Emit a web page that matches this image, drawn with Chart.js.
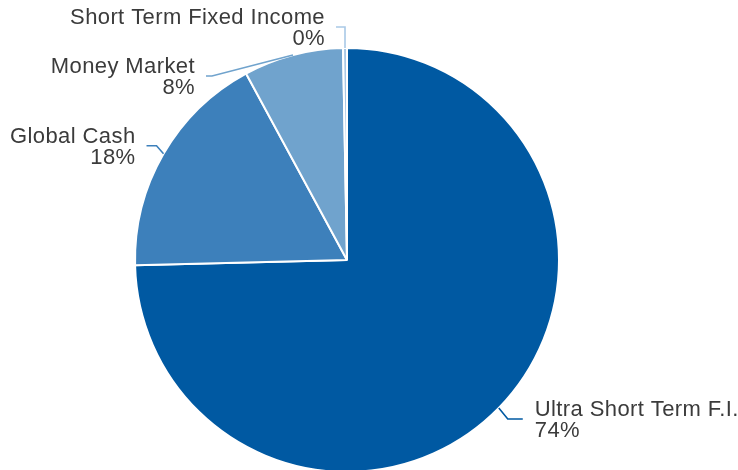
<!DOCTYPE html>
<html>
<head>
<meta charset="utf-8">
<script src="https://cdn.jsdelivr.net/npm/chart.js@4"></script>
<style>
  html, body { margin: 0; padding: 0; background: #fff; overflow: hidden; }
  #wrap { position: relative; width: 738px; height: 482px; }
</style>
</head>
<body>
<div id="wrap"><canvas id="pie"></canvas></div>
<script>
const categories = ['Ultra Short Term F.I.', 'Global Cash', 'Money Market', 'Short Term Fixed Income'];
const shares = [74.6, 17.5, 7.6, 0.3];
const shareLabels = ['74%', '18%', '8%', '0%'];
const sliceColors = ['#0059a2', '#3d80bb', '#70a3cd', '#a9c9e6'];

// leader line shape for each slice: arc point -> elbow -> short run -> text
const leaders = [
  { elbow: [9, 11], run: 15 },
  { elbow: [-7, -8], run: -10 },
  { elbow: [-81, 21], run: -6 },
  { elbow: [0, -21], run: -9 },
];

const calloutPlugin = {
  id: 'callouts',
  afterDraw(chart) {
    const ctx = chart.ctx;
    const meta = chart.getDatasetMeta(0);
    ctx.save();
    meta.data.forEach((arc, i) => {
      const p = arc.getProps(['x', 'y', 'startAngle', 'endAngle', 'outerRadius'], true);
      const mid = (p.startAngle + p.endAngle) / 2;
      const ax = p.x + Math.cos(mid) * p.outerRadius;
      const ay = p.y + Math.sin(mid) * p.outerRadius;
      const L = leaders[i];
      const ex = ax + L.elbow[0], ey = ay + L.elbow[1];
      const tx = ex + L.run;

      ctx.strokeStyle = sliceColors[i];
      ctx.lineWidth = 1.6;
      ctx.beginPath();
      ctx.moveTo(ax, ay);
      ctx.lineTo(ex, ey);
      ctx.lineTo(tx, ey);
      ctx.stroke();

      const right = L.run < 0;
      const textX = right ? tx - 11 : tx + 12;
      ctx.fillStyle = '#3b3b3b';
      ctx.font = '22px "Liberation Sans", Arial, sans-serif';
      ctx.letterSpacing = '0.4px';
      ctx.textAlign = right ? 'right' : 'left';
      ctx.textBaseline = 'alphabetic';
      ctx.fillText(categories[i], textX, ey - 3);
      ctx.fillText(shareLabels[i], textX, ey + 18);
    });
    ctx.restore();
  }
};

new Chart(document.getElementById('pie'), {
  type: 'pie',
  data: {
    labels: categories,
    datasets: [{
      data: shares,
      backgroundColor: sliceColors,
      borderColor: '#ffffff',
      borderWidth: 2,
    }],
  },
  options: {
    responsive: true,
    maintainAspectRatio: false,
    animation: false,
    layout: { padding: { top: 47, bottom: 9, left: 134, right: 178 } },
    plugins: {
      legend: { display: false },
      tooltip: { enabled: false },
    },
  },
  plugins: [calloutPlugin],
});
</script>
</body>
</html>
